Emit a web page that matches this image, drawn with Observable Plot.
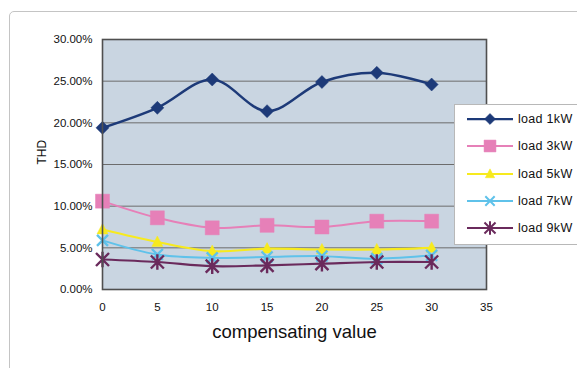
<!DOCTYPE html>
<html>
<head>
<meta charset="utf-8">
<script src="https://cdn.jsdelivr.net/npm/d3@7"></script>
<script src="https://cdn.jsdelivr.net/npm/@observablehq/plot@0.6"></script>
<style>
  html, body { margin: 0; padding: 0; background: #fff; }
  #wrap { position: relative; width: 577px; height: 368px; overflow: hidden; font-family: "Liberation Sans", Arial, sans-serif; }
  #outer { position: absolute; left: 9px; top: 11px; width: 620px; height: 420px; border: 1px solid #c4c4c4; border-radius: 5px; }
  #chart { position: absolute; left: 0; top: 0; }
  #legend { position: absolute; left: 454px; top: 104px; width: 150px; height: 139px; background: #fff; border: 1px solid #b8b8b8; }
  #legend .row { position: absolute; left: 0; height: 20px; display: flex; align-items: center; }
  #legend .row span { font-size: 12.5px; color: #111; margin-left: 4px; letter-spacing: 0.3px; }
</style>
</head>
<body>
<div id="wrap">
  <div id="outer"></div>
  <div id="chart"></div>
  <div id="legend"></div>
</div>
<script>
const xValues = [0, 5, 10, 15, 20, 25, 30];
const seriesNames = ["load 1kW", "load 3kW", "load 5kW", "load 7kW", "load 9kW"];
const load1kW = [19.4, 21.8, 25.2, 21.4, 24.9, 26.0, 24.6];
const load3kW = [10.6, 8.6, 7.4, 7.7, 7.5, 8.2, 8.2];
const load5kW = [7.2, 5.7, 4.6, 4.9, 4.8, 4.8, 5.0];
const load7kW = [5.9, 4.2, 3.8, 3.9, 4.0, 3.7, 4.1];
const load9kW = [3.6, 3.3, 2.8, 2.9, 3.1, 3.3, 3.3];
const xTicks = [0, 5, 10, 15, 20, 25, 30, 35];
const yTicks = [0, 5, 10, 15, 20, 25, 30];
const xLabel = "compensating value";
const yLabel = "THD";

const colors = ["#1d3a78", "#e680b8", "#f7ea1e", "#5fc2ea", "#6a2a5c"];
const widths = [2.5, 2, 2.2, 2, 2.2];

const diamondSym = { draw(ctx, size) { const h = Math.sqrt(size / Math.PI); ctx.moveTo(0, -h); ctx.lineTo(h, 0); ctx.lineTo(0, h); ctx.lineTo(-h, 0); ctx.closePath(); } };
const squareSym = { draw(ctx, size) { const h = Math.sqrt(size / Math.PI); ctx.rect(-h, -h, 2 * h, 2 * h); } };
const triSym = { draw(ctx, size) { const h = Math.sqrt(size / Math.PI); ctx.moveTo(0, -h * 1.1); ctx.lineTo(h, h * 0.8); ctx.lineTo(-h, h * 0.8); ctx.closePath(); } };
const timesSym = { draw(ctx, size) { const h = Math.sqrt(size / Math.PI); ctx.moveTo(-h, -h); ctx.lineTo(h, h); ctx.moveTo(h, -h); ctx.lineTo(-h, h); } };
const asterSym = { draw(ctx, size) { const h = Math.sqrt(size / Math.PI); ctx.moveTo(-h, -h); ctx.lineTo(h, h); ctx.moveTo(h, -h); ctx.lineTo(-h, h); ctx.moveTo(0, -h * 1.2); ctx.lineTo(0, h * 1.2); } };

const symbols = [diamondSym, squareSym, triSym, timesSym, asterSym];
const radii = [6.5, 7, 5.5, 5.5, 6.5];
const filled = [true, true, true, false, false];

const allSeries = [load1kW, load3kW, load5kW, load7kW, load9kW];
const rows = [];
allSeries.forEach((vals, i) => vals.forEach((v, j) => rows.push({ series: seriesNames[i], idx: i, x: xValues[j], y: v })));

const marks = [
  Plot.frame({ fill: "#c9d5e1" }),
  Plot.ruleY(yTicks.filter(t => t > 0 && t < 30), { stroke: "#6c6c6c", strokeWidth: 1 }),
];
seriesNames.forEach((name, i) => {
  const d = rows.filter(r => r.idx === i);
  marks.push(Plot.line(d, { x: "x", y: "y", stroke: colors[i], strokeWidth: widths[i], curve: "catmull-rom" }));
  marks.push(Plot.dot(d, {
    x: "x", y: "y", symbol: () => symbols[i], r: radii[i],
    fill: filled[i] ? colors[i] : "none",
    stroke: colors[i], strokeWidth: filled[i] ? 0.5 : 2.4
  }));
});
marks.push(Plot.frame({ stroke: "#4f4f4f", strokeWidth: 1.6 }));
marks.push(Plot.axisX({ ticks: xTicks, tickSize: 0, tickPadding: 13, fontSize: 11.5, label: null, fill: "#111" }));
marks.push(Plot.axisY({ ticks: yTicks, tickSize: 0, tickPadding: 10, fontSize: 11.5, label: null, tickFormat: d => d.toFixed(2) + "%", fill: "#111" }));
marks.push(Plot.text([xLabel], { frameAnchor: "bottom", dy: 48, fontSize: 18.5, fill: "#111", text: d => d }));
marks.push(Plot.text([yLabel], { frameAnchor: "left", dx: -60, dy: 0, rotate: -90, fontSize: 12, fill: "#111", text: d => d }));

const chart = Plot.plot({
  width: 577,
  height: 368,
  marginLeft: 102,
  marginRight: 91,
  marginTop: 39,
  marginBottom: 79,
  style: { background: "transparent", fontFamily: "'Liberation Sans', Arial, sans-serif", overflow: "visible" },
  x: { domain: [0, 35] },
  y: { domain: [0, 30] },
  symbol: { type: "identity" },
  marks
});
document.getElementById("chart").appendChild(chart);

// legend
const legend = d3.select("#legend");
seriesNames.forEach((name, i) => {
  const row = legend.append("div").attr("class", "row").style("top", (4 + i * 27.3) + "px").style("left", "11px");
  const svg = row.append("svg").attr("width", 48).attr("height", 20);
  svg.append("line").attr("x1", 1).attr("x2", 47).attr("y1", 10).attr("y2", 10)
    .attr("stroke", colors[i]).attr("stroke-width", widths[i] * 0.9);
  svg.append("path").attr("transform", "translate(24,10)")
    .attr("d", d3.symbol(symbols[i], Math.PI * Math.pow(radii[i] * 0.85, 2))())
    .attr("fill", filled[i] ? colors[i] : "none")
    .attr("stroke", colors[i]).attr("stroke-width", filled[i] ? 0.5 : 2);
  row.append("span").text(name);
});
</script>
</body>
</html>
